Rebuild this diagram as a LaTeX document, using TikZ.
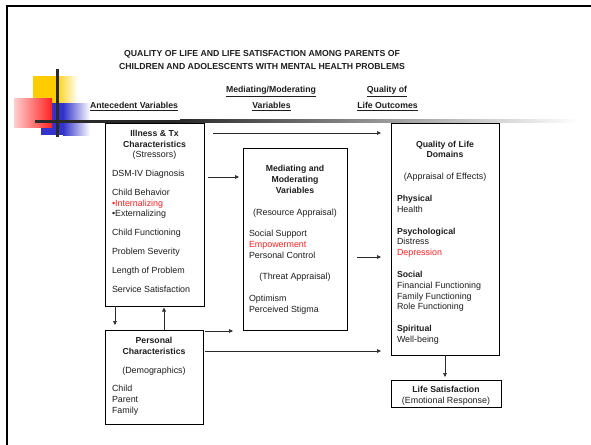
\documentclass[tikz,border=0pt]{standalone}
\usepackage{fontspec}
\setmainfont{Liberation Sans}
\usetikzlibrary{arrows.meta}
\definecolor{ink}{HTML}{1E1E1E}
\definecolor{hot}{HTML}{FF2222}
\definecolor{sun}{HTML}{FFCC00}
\definecolor{sea}{HTML}{3333CC}
\definecolor{bar}{HTML}{2A2A2A}
\tikzset{
  every node/.style={inner sep=0pt, outer sep=0pt, text=ink,
    font=\fontsize{8.9}{10.5}\selectfont},
  panel/.style={draw=black, line width=0.9pt, anchor=north west},
  hd/.style={anchor=base, font=\fontsize{8.7}{10.5}\selectfont\bfseries},
  hl/.style={anchor=base west, font=\fontsize{8.7}{10.5}\selectfont\bfseries},
  tl/.style={anchor=base west},
  tc/.style={anchor=base},
  arr/.style={draw=bar, line width=0.6pt, -{Triangle[length=4pt,width=3.6pt]}},
}
\begin{document}
\begin{tikzpicture}[x=1pt,y=-1pt]
\useasboundingbox[fill=white] (0,0) rectangle (591,444);

% slide frame
\draw[line width=2.6pt, black] (7,460) -- (7,6) -- (600,6);

% corner ornament
\fill[sun] (33,76) rectangle (55,103);
\shade[left color=sun, right color=white] (55,76) rectangle (78,103);
\fill[sea] (41,103) rectangle (63,135);
\shade[left color=sea, right color=white] (63,103) rectangle (90,135);
\shade[left color=hot!22!white, right color=hot] (14,98) rectangle (52,127);
\fill[bar] (55.5,69) rectangle (58.5,137);
\fill[bar] (35,119.8) rectangle (180,122.8);
\shade[left color=bar, right color=white] (180,119.8) rectangle (578,122.8);

% title
\node[hd] (title1) at (262,56.5) {QUALITY OF LIFE AND LIFE SATISFACTION AMONG PARENTS OF};
\node[hd] (title2) at (262,69.5) {CHILDREN AND ADOLESCENTS WITH MENTAL HEALTH PROBLEMS};

% column headings
\node[hd] (colA) at (134,108.5) {\underline{Antecedent Variables}};
\node[hd] (colB1) at (271,92.5) {\underline{Mediating/Moderating}};
\node[hd] (colB2) at (271.5,108.5) {\underline{Variables}};
\node[hd] (colC1) at (387,92.5) {\underline{Quality of}};
\node[hd] (colC2) at (387.5,108.5) {\underline{Life Outcomes}};

% boxes
\node[panel, minimum width=99pt, minimum height=183pt] (A) at (105,123) {};
\node[panel, minimum width=104pt, minimum height=182pt] (B) at (243,148) {};
\node[panel, minimum width=108pt, minimum height=232pt] (C) at (391,123) {};
\node[panel, minimum width=98pt, minimum height=94pt] (D) at (105,330) {};
\node[panel, minimum width=110pt, minimum height=27pt] (E) at (391,380) {};

% illness and treatment characteristics
\node[hd] (a1) at (154.5,136) {Illness \& Tx};
\node[hd] (a2) at (154.5,147) {Characteristics};
\node[tc] (a3) at (154.5,157.5) {(Stressors)};
\node[tl] (a4) at (112,176) {DSM-IV Diagnosis};
\node[tl] (a5) at (112,195) {Child Behavior};
\node[tl, text=hot] (a6) at (112,206) {•Internalizing};
\node[tl] (a7) at (112,216.5) {•Externalizing};
\node[tl] (a8) at (112,235) {Child Functioning};
\node[tl] (a9) at (112,254) {Problem Severity};
\node[tl] (a10) at (112,273) {Length of Problem};
\node[tl] (a11) at (112,292) {Service Satisfaction};

% mediating and moderating variables
\node[hd] (b1) at (295,171.5) {Mediating and};
\node[hd] (b2) at (295,182.5) {Moderating};
\node[hd] (b3) at (295,193.5) {Variables};
\node[tc] (b4) at (295,215.5) {(Resource Appraisal)};
\node[tl] (b5) at (249,236.5) {Social Support};
\node[tl, text=hot] (b6) at (249,247.5) {Empowerment};
\node[tl] (b7) at (249,258.5) {Personal Control};
\node[tc] (b8) at (295,279.5) {(Threat Appraisal)};
\node[tl] (b9) at (249,301.5) {Optimism};
\node[tl] (b10) at (249,312.5) {Perceived Stigma};

% quality of life domains
\node[hd] (c1) at (445,147.5) {Quality of Life};
\node[hd] (c2) at (445,157.5) {Domains};
\node[tc] (c3) at (445,179.5) {(Appraisal of Effects)};
\node[hl] (c4) at (397,201.5) {Physical};
\node[tl] (c5) at (397,212.5) {Health};
\node[hl] (c6) at (397,234.5) {Psychological};
\node[tl] (c7) at (397,244.5) {Distress};
\node[tl, text=hot] (c8) at (397,255.5) {Depression};
\node[hl] (c9) at (397,277.5) {Social};
\node[tl] (c10) at (397,288.5) {Financial Functioning};
\node[tl] (c11) at (397,299.5) {Family Functioning};
\node[tl] (c12) at (397,309.5) {Role Functioning};
\node[hl] (c13) at (397,331.5) {Spiritual};
\node[tl] (c14) at (397,342.5) {Well-being};

% personal characteristics
\node[hd] (d1) at (154,343.5) {Personal};
\node[hd] (d2) at (154,354.5) {Characteristics};
\node[tc] (d3) at (154,373.5) {(Demographics)};
\node[tl] (d4) at (112,391.5) {Child};
\node[tl] (d5) at (112,402.5) {Parent};
\node[tl] (d6) at (112,413.5) {Family};

% life satisfaction
\node[hd] (e1) at (446,392.5) {Life Satisfaction};
\node[tc] (e2) at (446,403.5) {(Emotional Response)};

% connectors
\draw[arr] ([shift={(9pt,-10pt)}]A.north east) -- ([shift={(-10pt,-10pt)}]C.north west);
\draw[arr] ([shift={(4pt,-54pt)}]A.north east) -- ([shift={(-4pt,-29pt)}]B.north west);
\draw[arr] ([shift={(10pt,-109pt)}]B.north east) -- ([shift={(-10pt,-134pt)}]C.north west);
\draw[arr] ([xshift=10pt]A.south west) -- ([shift={(10pt,5pt)}]D.north west);
\draw[arr] ([xshift=59pt]D.north west) -- ([shift={(59pt,-1.5pt)}]A.south west);
\draw[arr] ([shift={(2pt,-1pt)}]D.north east) -- ([shift={(-10pt,-1pt)}]B.south west);
\draw[arr] ([shift={(2pt,-21pt)}]D.north east) -- ([shift={(-10pt,4pt)}]C.south west);
\draw[arr] (C.south) -- ([yshift=3pt]E.north -| C.south);
\end{tikzpicture}
\end{document}
